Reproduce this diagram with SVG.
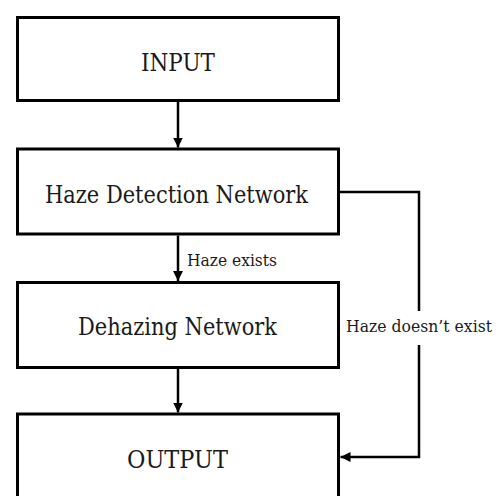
<svg xmlns="http://www.w3.org/2000/svg" width="498" height="496" viewBox="0 0 498 496">
<defs>
<style>
.box{fill:#fff;stroke:#000;stroke-width:3}
.lbl{font-family:"DejaVu Serif",serif;font-size:24px;fill:#1a1a1a;text-anchor:middle}
.edge{font-family:"DejaVu Serif",serif;font-size:17.5px;fill:#1a1a1a}
.conn{fill:none;stroke:#000;stroke-width:2.5}
</style>
<marker id="arr" viewBox="0 0 10 10" refX="10" refY="5" markerWidth="4" markerHeight="4" orient="auto" markerUnits="strokeWidth">
<path d="M0,0 L10,5 L0,10 z" fill="#000"/>
</marker>
</defs>
<rect width="498" height="496" fill="#fff"/>
<g id="input">
<rect class="box" x="17.5" y="17.5" width="321" height="83"/>
<text class="lbl" x="178" y="71" textLength="74" lengthAdjust="spacingAndGlyphs">INPUT</text>
</g>
<g id="haze-detection">
<rect class="box" x="17.5" y="149" width="321" height="85"/>
<text class="lbl" x="176.5" y="203" textLength="263" lengthAdjust="spacingAndGlyphs">Haze Detection Network</text>
</g>
<g id="dehazing">
<rect class="box" x="17.5" y="282.5" width="321" height="85"/>
<text class="lbl" x="177.5" y="335" textLength="199" lengthAdjust="spacingAndGlyphs">Dehazing Network</text>
</g>
<g id="output">
<rect class="box" x="17.5" y="414" width="321" height="90"/>
<text class="lbl" x="177.5" y="468" textLength="101" lengthAdjust="spacingAndGlyphs">OUTPUT</text>
</g>
<g id="connectors">
<path class="conn" d="M178,102 V147.5" marker-end="url(#arr)"/>
<path class="conn" d="M178,235.5 V281" marker-end="url(#arr)"/>
<path class="conn" d="M178,369 V412.5" marker-end="url(#arr)"/>
<path class="conn" d="M340,192 H419 V311"/>
<path class="conn" d="M419,345 V457 H340.5" marker-end="url(#arr)"/>
<text class="edge" x="187" y="266" textLength="90" lengthAdjust="spacingAndGlyphs">Haze exists</text>
<text class="edge" x="346" y="332" textLength="146" lengthAdjust="spacingAndGlyphs">Haze doesn’t exist</text>
</g>
</svg>
